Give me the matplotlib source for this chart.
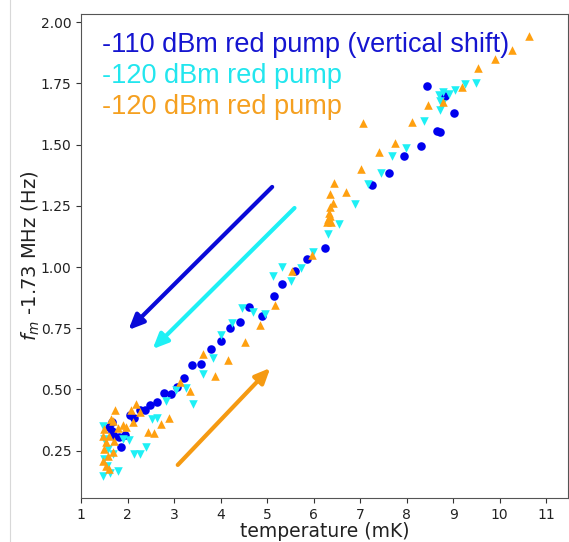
import matplotlib
matplotlib.use("Agg")
import matplotlib.pyplot as plt
from matplotlib.lines import Line2D

# ---- data ----
blue_x = [9.02, 8.82, 8.44, 8.65, 8.71, 8.31, 7.95, 7.62, 7.26, 6.24, 5.86, 5.60, 5.32, 5.14,
          4.90, 4.61, 4.42, 4.21, 4.00, 3.79, 3.59, 3.38, 3.22, 3.06, 2.93, 2.78, 2.63, 2.49,
          2.37, 2.26, 2.15, 2.05, 1.95, 1.81, 1.86, 1.67, 1.67, 1.61, 1.72]
blue_y = [1.627, 1.699, 1.738, 1.556, 1.550, 1.495, 1.454, 1.385, 1.336, 1.076, 1.033, 0.985,
          0.929, 0.882, 0.801, 0.835, 0.774, 0.750, 0.697, 0.665, 0.605, 0.599, 0.548, 0.511,
          0.482, 0.486, 0.450, 0.436, 0.417, 0.415, 0.384, 0.395, 0.313, 0.305, 0.264, 0.332,
          0.366, 0.347, 0.310]

cyan_x = [9.50, 9.25, 9.03, 8.91, 8.78, 8.70, 8.72, 8.76, 8.72, 8.38, 7.99, 7.69, 7.44, 7.16,
          6.89, 6.55, 6.30, 5.99, 5.73, 5.32, 5.12, 5.51, 4.95, 4.70, 4.47, 4.25, 4.00, 3.84,
          3.62, 3.41, 3.26, 3.04, 2.83, 2.64, 2.52, 2.39, 2.26, 2.14, 2.03, 1.90, 1.79, 1.63,
          1.47, 1.55, 1.50, 1.47, 1.50, 1.57, 1.68]
cyan_y = [1.750, 1.747, 1.722, 1.706, 1.716, 1.703, 1.679, 1.665, 1.642, 1.595, 1.484, 1.454,
          1.384, 1.338, 1.256, 1.176, 1.133, 1.063, 0.995, 0.999, 0.962, 0.942, 0.808, 0.815,
          0.831, 0.770, 0.722, 0.628, 0.563, 0.441, 0.508, 0.499, 0.453, 0.384, 0.380, 0.267,
          0.237, 0.236, 0.295, 0.298, 0.169, 0.158, 0.147, 0.189, 0.216, 0.352, 0.298, 0.257,
          0.237]

orange_x = [10.63, 10.27, 9.89, 9.53, 9.20, 8.79, 8.47, 8.12, 7.75, 7.40, 7.07, 7.02, 6.44,
            6.70, 6.35, 6.42, 6.35, 6.34, 6.32, 6.28, 6.37, 6.35, 5.96, 5.54, 5.18, 4.85, 4.52,
            4.17, 3.89, 3.63, 3.34, 3.13, 2.90, 2.72, 2.56, 2.43, 2.27, 2.18, 2.08, 1.90, 1.73,
            1.68, 1.79, 1.97, 2.11, 1.50, 1.47, 1.54, 1.50, 1.57, 1.47, 1.54, 1.61, 1.68, 1.70,
            1.61, 1.65]
orange_y = [1.945, 1.886, 1.849, 1.811, 1.733, 1.672, 1.661, 1.591, 1.506, 1.471, 1.589, 1.400,
            1.342, 1.308, 1.297, 1.261, 1.244, 1.220, 1.196, 1.182, 1.185, 1.207, 1.050, 0.982,
            0.845, 0.764, 0.694, 0.622, 0.555, 0.645, 0.495, 0.529, 0.382, 0.359, 0.323, 0.328,
            0.409, 0.440, 0.418, 0.355, 0.415, 0.373, 0.342, 0.346, 0.366, 0.339, 0.311, 0.284,
            0.257, 0.230, 0.209, 0.189, 0.176, 0.244, 0.291, 0.311, 0.380]

labels = ["-110 dBm red pump (vertical shift)", "-120 dBm red pump", "-120 dBm red pump"]
x_ticks = [1, 2, 3, 4, 5, 6, 7, 8, 9, 10, 11]
y_ticks = [0.25, 0.50, 0.75, 1.00, 1.25, 1.50, 1.75, 2.00]

# arrows: (start, end) in data coordinates
arrow_blue = ((5.11, 1.327), (2.02, 0.743))
arrow_cyan = ((5.59, 1.241), (2.54, 0.665))
arrow_orange = ((3.08, 0.192), (5.07, 0.588))

c_blue = "#0000ee"
c_cyan = "#1ef0f5"
c_orange = "#ffa010"

fig = plt.figure(figsize=(5.69, 5.42), dpi=100)
ax = fig.add_axes([81 / 569, 44 / 542, 487 / 569, 484 / 542])

ax.scatter(blue_x, blue_y, marker="o", s=38, color=c_blue, linewidths=0, zorder=3)
ax.scatter(cyan_x, cyan_y, marker="v", s=38, color=c_cyan, linewidths=0, zorder=4)
ax.scatter(orange_x, orange_y, marker="^", s=38, color=c_orange, linewidths=0, zorder=5)

for (s, e), col in [(arrow_blue, "#0a0ad8"), (arrow_cyan, c_cyan), (arrow_orange, "#f59a12")]:
    ax.annotate("", xy=e, xytext=s,
                arrowprops=dict(arrowstyle="-|>,head_length=0.45,head_width=0.2",
                                lw=3.0, color=col, mutation_scale=20,
                                shrinkA=0, shrinkB=0))

ax.set_xlim(1.0, 11.47)
ax.set_ylim(0.057, 2.033)
ax.set_xticks(x_ticks)
ax.set_yticks(y_ticks)
ax.set_yticklabels([f"{v:.2f}" for v in y_ticks])
ax.tick_params(labelsize=10, colors="#333333", labelcolor="#222222")
for sp in ax.spines.values():
    sp.set_color("#555555")

ax.set_xlabel("temperature (mK)", fontsize=13.5, color="#222222", labelpad=0)
ax.set_ylabel("$f_m$ -1.73 MHz (Hz)", fontsize=14, color="#222222", labelpad=-1)

txt_cols = ["#1515d0", "#22e6ee", "#f5a020"]
ys = [0.922, 0.858, 0.794]
for lab, col, yy in zip(labels, txt_cols, ys):
    ax.text(0.043, yy, lab, transform=ax.transAxes, color=col, fontsize=19.5,
            family="Liberation Sans", va="baseline", ha="left")

fig.add_artist(Line2D([10 / 569, 10 / 569], [0, 1], transform=fig.transFigure,
                      color="#d8d8d8", lw=0.8))

fig.savefig("out.png", dpi=100)
